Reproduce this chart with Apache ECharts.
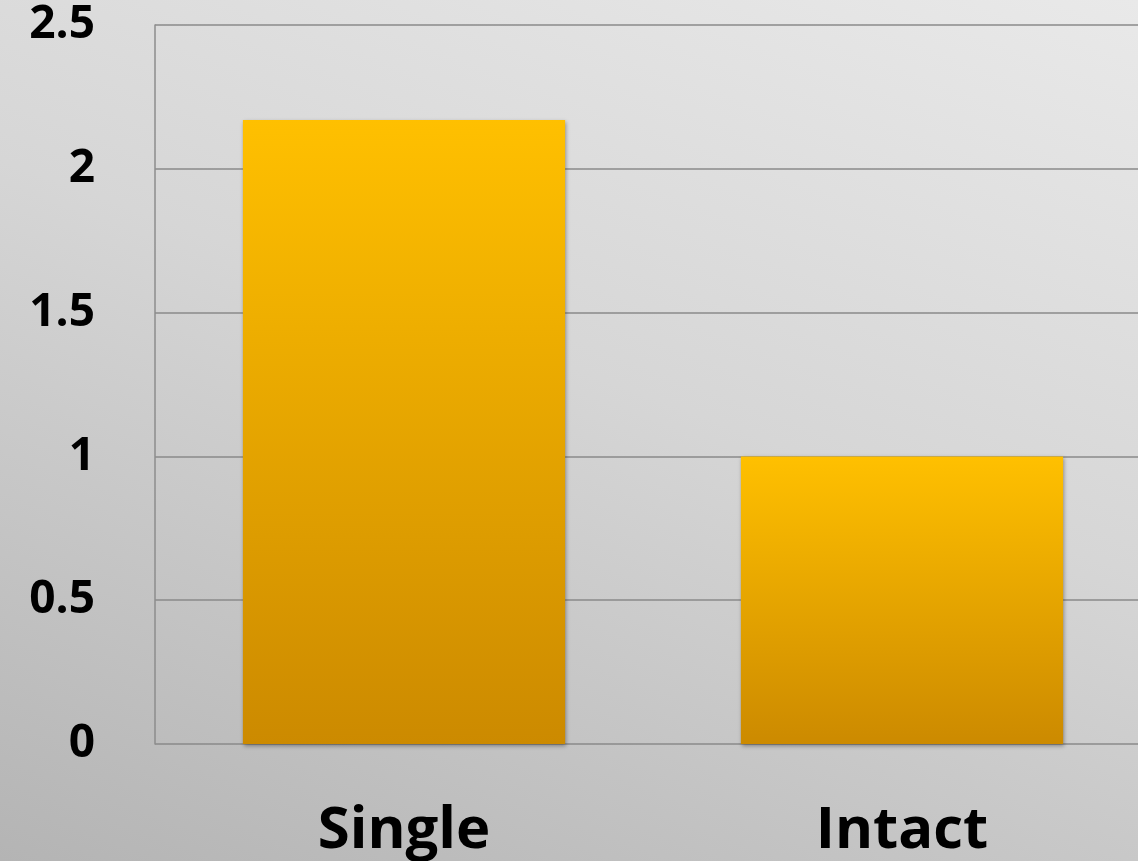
<!DOCTYPE html>
<html>
<head>
<meta charset="utf-8">
<script src="https://cdn.jsdelivr.net/npm/echarts@6/dist/echarts.min.js"></script>
<style>
  html, body { margin: 0; padding: 0; }
  #chart {
    width: 1138px; height: 861px;
    background: linear-gradient(200deg, #e9e9e9 0%, #d6d6d6 45%, #b4b4b4 100%);
  }
</style>
</head>
<body>
<div id="chart"></div>
<script>
const categories = ['Single', 'Intact'];
const values = [2.17, 1.0];
const yTicks = { min: 0, max: 2.5, interval: 0.5 };

const chart = echarts.init(document.getElementById('chart'), null, { renderer: 'canvas' });

const barFill = new echarts.graphic.LinearGradient(0, 0, 0, 1, [
  { offset: 0, color: '#ffc000' },
  { offset: 1, color: '#cc8a00' }
]);

chart.setOption({
  backgroundColor: 'transparent',
  animation: false,
  // plot area runs a little past the right edge of the canvas
  grid: {
    left: 155, top: 25, bottom: 117, width: 996,
    containLabel: false,
    outerBoundsMode: 'none'
  },
  xAxis: {
    type: 'category',
    data: categories,
    axisLine: { show: false },
    axisTick: { show: false },
    axisLabel: {
      margin: 58,
      fontFamily: 'Open Sans',
      fontWeight: 'bold',
      fontSize: 58,
      color: '#000'
    }
  },
  yAxis: {
    type: 'value',
    min: yTicks.min,
    max: yTicks.max,
    interval: yTicks.interval,
    axisLine: { show: true, lineStyle: { color: '#8c8c8c', width: 1.5 } },
    axisTick: { show: false },
    splitLine: { show: true, lineStyle: { color: '#8a8a8a', width: 1.5 } },
    axisLabel: {
      margin: 60,
      fontFamily: 'Open Sans',
      fontWeight: 'bold',
      fontSize: 46,
      color: '#000',
      verticalAlign: 'middle',
      padding: [10, 0, 0, 0],
      formatter: v => String(v)
    }
  },
  series: [{
    type: 'bar',
    data: values,
    barWidth: '64.7%',
    itemStyle: {
      color: barFill,
      shadowColor: 'rgba(0,0,0,0.35)',
      shadowBlur: 4,
      shadowOffsetX: 1,
      shadowOffsetY: 2
    }
  }]
});
</script>
</body>
</html>
